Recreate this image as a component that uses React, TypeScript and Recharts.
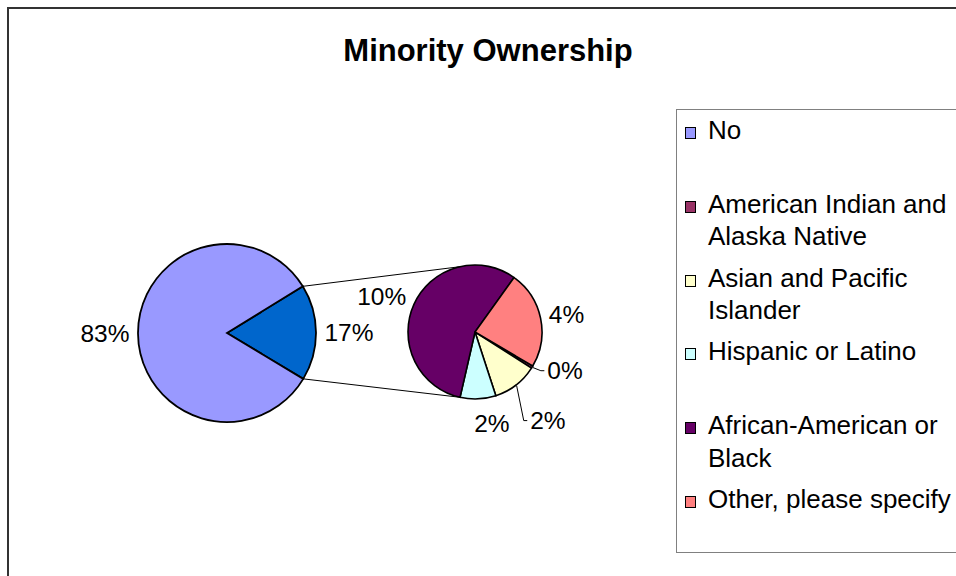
import { PieChart, Pie, Cell } from "recharts";

const TITLE = "Minority Ownership";

const MAIN_NAME = "No";
const MAIN_VALUE = 82.6;

const DETAIL_NAMES = [
  "American Indian and Alaska Native",
  "Asian and Pacific Islander",
  "Hispanic or Latino",
  "African-American or Black",
  "Other, please specify",
];
const DETAIL_VALUES = [0.1, 1.9, 1.5, 9.8, 4.1];

const MAIN_COLOR = "#9999FF";
const SPLIT_COLOR = "#0066CC";
const DETAIL_COLORS = ["#993366", "#FFFFCC", "#CCFFFF", "#660066", "#FF8080"];

const FONT = "'Liberation Sans', Arial, sans-serif";
const RAD = Math.PI / 180;

// geometry of the two pies (chart px)
const MAIN = { cx: 218, cy: 324, r: 89 };
const SUB = { cx: 466, cy: 323, r: 67 };
const SPLIT_MID_ANGLE = 0.3;
const SUB_START = -30.5;
const CONNECT_ANGLE = 103;

// nudges for the crowded labels on the small pie
const SUB_LABEL_NUDGE = [
  { dx: 8, dy: -6, leader: true },
  { dx: 9, dy: 21, leader: true },
  { dx: 13.5, dy: 6.5, leader: false },
  { dx: 0, dy: 0, leader: false },
  { dx: 0, dy: 0, leader: false },
];

const splitTotal = DETAIL_VALUES.reduce((a, b) => a + b, 0);
const grandTotal = MAIN_VALUE + splitTotal;

const mainData = [
  { name: "Other", value: splitTotal },
  { name: MAIN_NAME, value: MAIN_VALUE },
];
const detailData = DETAIL_NAMES.map((name, i) => ({ name, value: DETAIL_VALUES[i] }));

const legendItems = [
  { name: MAIN_NAME, color: MAIN_COLOR },
  ...DETAIL_NAMES.map((name, i) => ({ name, color: DETAIL_COLORS[i] })),
];

const mainStart = SPLIT_MID_ANGLE - ((splitTotal / grandTotal) * 360) / 2;

const polar = (cx: number, cy: number, r: number, a: number) => [
  cx + r * Math.cos(-a * RAD),
  cy + r * Math.sin(-a * RAD),
];

const pct = (v: number) => `${Math.round((v / grandTotal) * 100)}%`;

function placeLabel(cx: number, cy: number, r: number, midAngle: number) {
  const [x, y] = polar(cx, cy, r + 8.5, midAngle);
  const cos = Math.cos(midAngle * RAD);
  const sin = Math.sin(midAngle * RAD);
  const anchor = cos > 0.35 ? "start" : cos < -0.35 ? "end" : "middle";
  return { x, y: y - sin * 10, anchor };
}

const labelText = (x: number, y: number, anchor: string, txt: string) => (
  <text
    x={x}
    y={y}
    textAnchor={anchor as any}
    dominantBaseline="central"
    fontFamily={FONT}
    fontSize={24.5}
    fill="#000"
  >
    {txt}
  </text>
);

const renderMainLabel = (p: any) => {
  const { cx, cy, midAngle, outerRadius, index, value, startAngle, endAngle } = p;
  const { x, y, anchor } = placeLabel(cx, cy, outerRadius, midAngle);
  const t = labelText(x, y, anchor, pct(value));
  if (index !== 0) return t;
  const [x1, y1] = polar(cx, cy, outerRadius, endAngle);
  const [x2, y2] = polar(SUB.cx, SUB.cy, SUB.r, CONNECT_ANGLE);
  const [x3, y3] = polar(cx, cy, outerRadius, startAngle);
  const [x4, y4] = polar(SUB.cx, SUB.cy, SUB.r, -CONNECT_ANGLE);
  return (
    <g>
      <line x1={x1} y1={y1} x2={x2} y2={y2} stroke="#000" strokeWidth={1} />
      <line x1={x3} y1={y3} x2={x4} y2={y4} stroke="#000" strokeWidth={1} />
      {t}
    </g>
  );
};

const renderSubLabel = (p: any) => {
  const { cx, cy, midAngle, outerRadius, index, value } = p;
  const base = placeLabel(cx, cy, outerRadius, midAngle);
  const n = SUB_LABEL_NUDGE[index];
  const x = base.x + n.dx;
  const y = base.y + n.dy;
  const t = labelText(x, y, base.anchor, pct(value));
  if (!n.leader) return t;
  const [sx, sy] = polar(cx, cy, outerRadius + 1, midAngle);
  return (
    <g>
      <polyline
        points={`${sx},${sy} ${x - 6.5},${y} ${x - 3},${y}`}
        fill="none"
        stroke="#000"
        strokeWidth={1}
      />
      {t}
    </g>
  );
};

export default function App() {
  return (
    <div
      style={{
        position: "fixed",
        left: 7,
        top: 7,
        width: 1000,
        height: 1000,
        borderTop: "2px solid #333",
        borderLeft: "2px solid #333",
        background: "#fff",
        fontFamily: FONT,
      }}
    >
      <PieChart width={947} height={567} margin={{ top: 0, right: 0, bottom: 0, left: 0 }}>
        <Pie
          data={mainData}
          dataKey="value"
          cx={MAIN.cx}
          cy={MAIN.cy}
          outerRadius={MAIN.r}
          startAngle={mainStart}
          endAngle={mainStart + 360}
          stroke="#000"
          strokeWidth={1.8}
          label={renderMainLabel}
          labelLine={false}
          isAnimationActive={false}
        >
          <Cell fill={SPLIT_COLOR} />
          <Cell fill={MAIN_COLOR} />
        </Pie>
        <Pie
          data={detailData}
          dataKey="value"
          cx={SUB.cx}
          cy={SUB.cy}
          outerRadius={SUB.r}
          startAngle={SUB_START}
          endAngle={SUB_START - 360}
          stroke="#000"
          strokeWidth={1.6}
          label={renderSubLabel}
          labelLine={false}
          isAnimationActive={false}
        >
          {detailData.map((d, i) => (
            <Cell key={d.name} fill={DETAIL_COLORS[i]} />
          ))}
        </Pie>
      </PieChart>

      <div
        style={{
          position: "absolute",
          left: 0,
          top: 25.5,
          width: 958,
          textAlign: "center",
          fontSize: 31,
          fontWeight: "bold",
          lineHeight: "31px",
          color: "#000",
        }}
      >
        {TITLE}
      </div>

      <div
        style={{
          position: "absolute",
          left: 667,
          top: 100,
          width: 400,
          height: 444,
          boxSizing: "border-box",
          border: "1px solid #808080",
        }}
      >
        {legendItems.map((it, i) => (
          <div key={it.name} style={{ position: "absolute", left: 0, top: 3.9 + i * 73.8 }}>
            <div
              style={{
                position: "absolute",
                left: 8,
                top: 13.1,
                width: 11,
                height: 12,
                boxSizing: "border-box",
                border: "1.5px solid #000",
                background: it.color,
              }}
            />
            <div
              style={{
                position: "absolute",
                left: 31,
                top: 0,
                width: 252,
                fontSize: 26,
                lineHeight: "32.5px",
                color: "#000",
              }}
            >
              {it.name}
            </div>
          </div>
        ))}
      </div>
    </div>
  );
}
